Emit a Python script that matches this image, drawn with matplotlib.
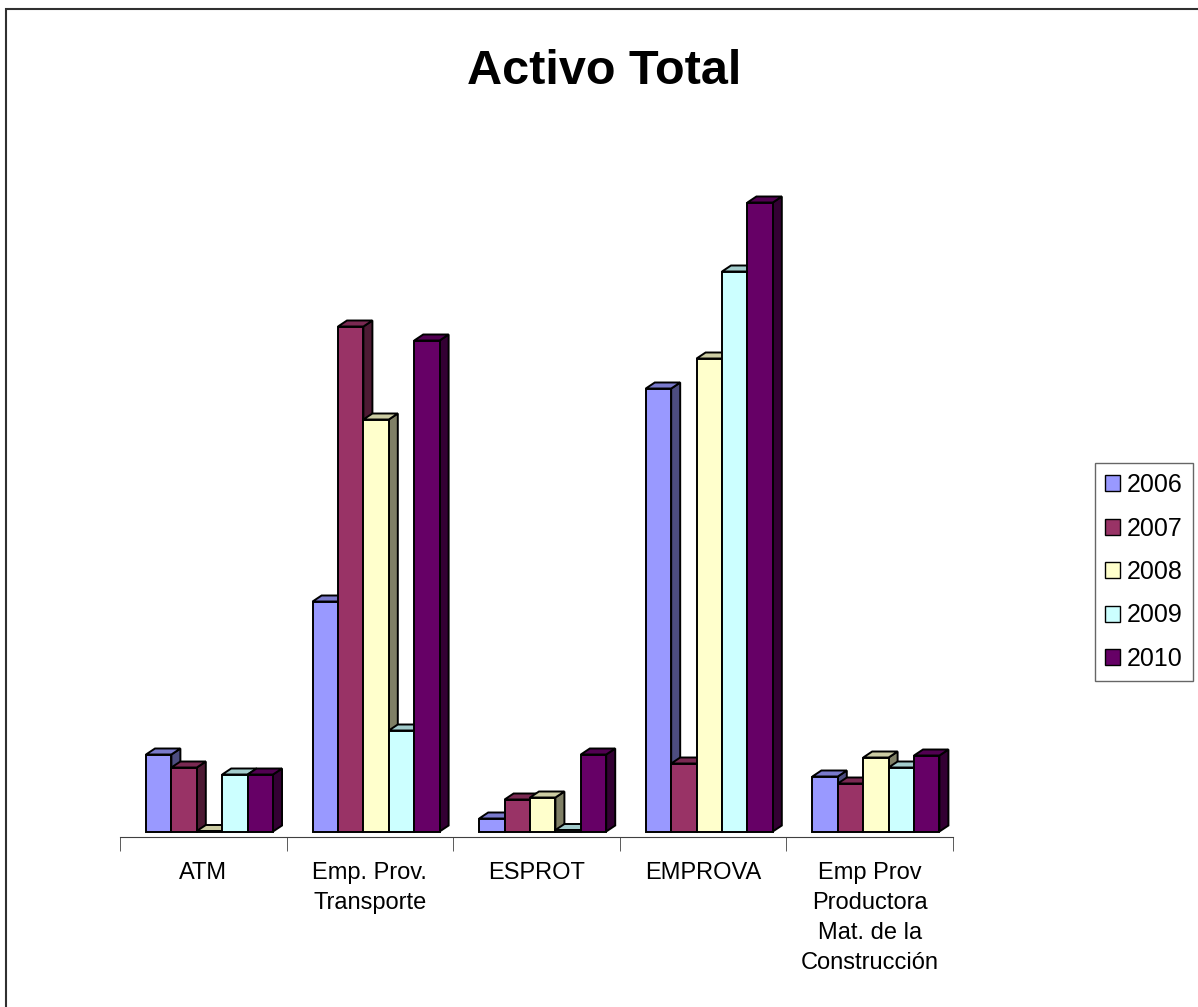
import numpy as np
import matplotlib
matplotlib.use('Agg')
import matplotlib.pyplot as plt
from matplotlib.patches import Polygon, Rectangle, Patch
from matplotlib.colors import to_rgb

plt.rcParams['font.family'] = ['Liberation Sans', 'DejaVu Sans']

categories = ['ATM', 'Emp. Prov.\nTransporte', 'ESPROT', 'EMPROVA',
              'Emp Prov\nProductora\nMat. de la\nConstrucción']
years = ['2006', '2007', '2008', '2009', '2010']
s2006 = [77, 230, 13, 443, 55]
s2007 = [64, 505, 32, 68, 48]
s2008 = [0.5, 412, 34, 473, 74]
s2009 = [57, 101, 1.5, 560, 64]
s2010 = [57, 491, 77, 629, 76]
series = [s2006, s2007, s2008, s2009, s2010]
colors = ['#9999FF', '#993366', '#FFFFCC', '#CCFFFF', '#660066']

W, H = 1198, 1007
fig = plt.figure(figsize=(W / 100, H / 100), dpi=100)
ax = fig.add_axes([120 / W, (H - 837) / H, (953 - 120) / W, (837 - 180) / H])
ax.set_xlim(0, 5)
ax.set_ylim(-5.5, 651.5)


def shade(c, f):
    return tuple(v * f for v in to_rgb(c))


# 3d-ish bars: side, top, front
bw = 0.1525
dx = 9 / 166.6
dy = 6
z = 2
for c in range(len(categories)):
    for i, vals in enumerate(series):
        h = vals[c]
        x0 = c + 0.156 + i * bw
        x1 = x0 + bw
        kw = dict(edgecolor='black', linewidth=1.4, joinstyle='miter', zorder=z)
        ax.add_patch(Polygon([(x1, 0), (x1 + dx, dy), (x1 + dx, h + dy), (x1, h)],
                             facecolor=shade(colors[i], 0.5), **kw))
        ax.add_patch(Polygon([(x0, h), (x0 + dx, h + dy), (x1 + dx, h + dy), (x1, h)],
                             facecolor=shade(colors[i], 0.8), **kw))
        ax.add_patch(Rectangle((x0, 0), bw, h, facecolor=colors[i], **kw))
        z += 1

for s in ['top', 'left', 'right']:
    ax.spines[s].set_visible(False)
ax.spines['bottom'].set_color('#404040')
ax.set_yticks([])
ax.set_xticks(np.arange(5) + 0.5)
ax.set_xticklabels(categories, fontsize=17, linespacing=1.48)
ax.set_xticks(np.arange(6), minor=True)
ax.tick_params(axis='x', which='major', length=0, pad=18)
ax.tick_params(axis='x', which='minor', length=10, color='#404040', direction='out')

fig.text(604 / W, 1 - 72 / H, 'Activo Total', fontsize=35, fontweight='bold',
         ha='center', va='center')

handles = [Patch(facecolor=colors[i], edgecolor='black', linewidth=1) for i in range(5)]
leg = fig.legend(handles, years, loc='center right', bbox_to_anchor=(1193 / W, 1 - 572 / H),
                 fontsize=18, frameon=True, fancybox=False, edgecolor='#404040',
                 handlelength=0.6, handleheight=0.6, handletextpad=0.3,
                 labelspacing=0.78, borderpad=0.4, borderaxespad=0)
leg.get_frame().set_linewidth(1)

# outer chart border
fig.add_artist(Rectangle((6 / W, -0.01), 1.02, 1.01 - 9 / H, transform=fig.transFigure,
                         fill=False, edgecolor='#303030', linewidth=1.5))

fig.savefig('out.png', dpi=100)
